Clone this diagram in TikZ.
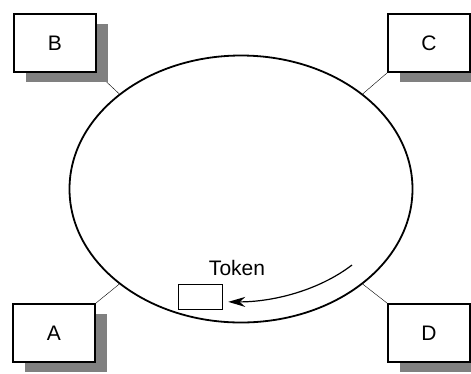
\documentclass[tikz,border=0pt]{standalone}
\usepackage{fontspec}
\setmainfont{Liberation Sans}
\usepackage{tikz}
\usetikzlibrary{shapes.geometric,shadows,backgrounds,arrows.meta}

\begin{document}
\begin{tikzpicture}[x=1pt, y=-1pt,
	station/.style={draw, rectangle, line width=1.8pt, fill=white, minimum width=82pt, minimum height=58pt, font=\fontsize{21}{24}\selectfont, drop shadow={shadow xshift=12pt, shadow yshift=-10pt, fill=black!50, opacity=1}}]
	\clip (0,0) rectangle (471,373);
	\node[draw, ellipse, line width=1.8pt, minimum width=343pt, minimum height=267pt, inner sep=0pt] (ring) at (241,189){};
	\node[station] (B) at (55,43) {B};
	\node[station] (C) at (429,43) {C};
	\node[station] (A) at (54,333) {A};
	\node[station] (D) at (429,333) {D};
	\node[draw, rectangle, line width=1.5pt, minimum width=44pt, minimum height=25pt, inner sep=0pt] (tok) at (200.5,297){};
	\node[font=\fontsize{21}{24}\selectfont] (toklabel) at (237,268) {Token};
	\coordinate (tail) at (352,265);

	\begin{scope}[on background layer, line width=1.8pt]
		\draw (ring.142) -- (B.south east);
		\draw (ring.38) -- (C.south west);
		\draw (ring.218) -- (A.north east);
		\draw (ring.322) -- (D.north west);
	\end{scope}
	\draw[line width=1.2pt, -{Stealth[length=17pt, width=10pt]}, shorten >=5pt] (tail) .. controls (318,291) and (272,302) .. (tok.-12);
\end{tikzpicture}
\end{document}
